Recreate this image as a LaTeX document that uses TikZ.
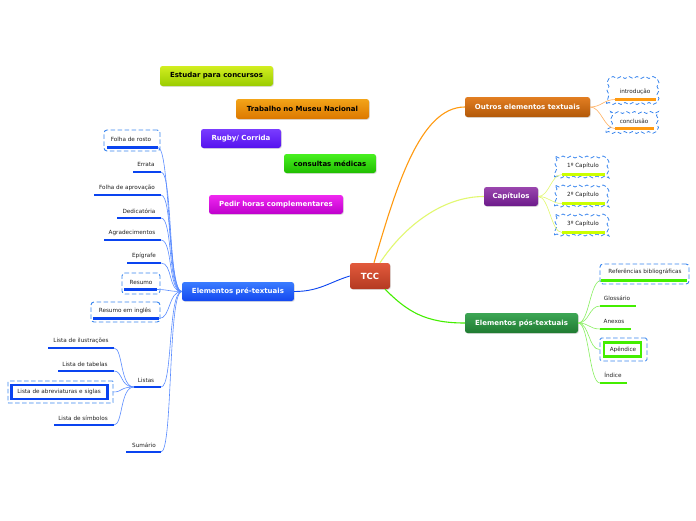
\documentclass[tikz,border=0pt]{standalone}
\usepackage{fontspec}
\setmainfont{DejaVu Sans}
\usetikzlibrary{decorations.pathmorphing,shadows}
\definecolor{tccT}{HTML}{E25A3C}\definecolor{tccB}{HTML}{B43A22}
\definecolor{preT}{HTML}{3A7CFF}\definecolor{preB}{HTML}{1448F0}
\definecolor{outT}{HTML}{E27E22}\definecolor{outB}{HTML}{B25808}
\definecolor{capT}{HTML}{9A46AE}\definecolor{capB}{HTML}{6C1A8A}
\definecolor{posT}{HTML}{3DA655}\definecolor{posB}{HTML}{1F7B31}
\definecolor{estT}{HTML}{D2EE20}\definecolor{estB}{HTML}{9ACC00}
\definecolor{traT}{HTML}{F3A418}\definecolor{traB}{HTML}{DC7800}
\definecolor{rugT}{HTML}{7A3CFF}\definecolor{rugB}{HTML}{5512EE}
\definecolor{conT}{HTML}{48F020}\definecolor{conB}{HTML}{20BE00}
\definecolor{pedT}{HTML}{F028F0}\definecolor{pedB}{HTML}{BE00CC}
\definecolor{ulblue}{HTML}{0A44F0}
\definecolor{lnblue}{HTML}{5A8CFF}
\definecolor{ulor}{HTML}{FF9A10}
\definecolor{lnor}{HTML}{FFB060}
\definecolor{ullime}{HTML}{CCFF00}
\definecolor{lnlime}{HTML}{E2F870}
\definecolor{ulgreen}{HTML}{44EE00}
\definecolor{lngreen}{HTML}{88F060}
\definecolor{dashc}{HTML}{3A86EE}
\definecolor{txt}{HTML}{222222}
\tikzset{
  mainbox/.style={rounded corners=2.5pt, inner sep=0pt, text=white,
    font=\bfseries\fontsize{7}{8}\selectfont,
    drop shadow={opacity=0.25, shadow xshift=0.8pt, shadow yshift=-0.8pt}},
  subt/.style={font=\fontsize{5.7}{6.5}\selectfont, text=txt, inner sep=0pt},
  ul/.style={line width=2.4pt},
  lc/.style={line width=0.6pt},
  dbox/.style={draw=dashc, dash pattern=on 4.5pt off 2.5pt, line width=0.9pt, rounded corners=3pt, inner sep=0pt},
  wbox/.style={draw=dashc, dash pattern=on 4pt off 2.5pt, line width=0.8pt, inner sep=0pt,
    decorate, decoration={snake, amplitude=1pt, segment length=8pt}},
}
\begin{document}
\begin{tikzpicture}[x=1pt,y=-1pt]
\useasboundingbox[fill=white] (0,0) rectangle (696,520);

% ---- floating topics
\node[mainbox, top color=estT, bottom color=estB, text=black, minimum width=113pt, minimum height=20pt] (est) at (216.5,76) {Estudar para concursos};
\node[mainbox, top color=traT, bottom color=traB, text=black, minimum width=133pt, minimum height=20pt] (tra) at (302.5,109) {Trabalho no Museu Nacional};
\node[mainbox, top color=rugT, bottom color=rugB, minimum width=80pt, minimum height=19pt] (rug) at (241,138.5) {Rugby/ Corrida};
\node[mainbox, top color=conT, bottom color=conB, text=black, minimum width=92pt, minimum height=19pt] (con) at (330,163.5) {consultas médicas};
\node[mainbox, top color=pedT, bottom color=pedB, minimum width=134pt, minimum height=19pt] (ped) at (276,204.5) {Pedir horas complementares};

% ---- main topics
\node[mainbox, top color=tccT, bottom color=tccB, minimum width=40pt, minimum height=26pt, font=\bfseries\fontsize{8.5}{9}\selectfont] (tcc) at (370,276) {TCC};
\node[mainbox, top color=preT, bottom color=preB, minimum width=112pt, minimum height=19pt] (pre) at (238,291.5) {Elementos pré-textuais};
\node[mainbox, top color=outT, bottom color=outB, minimum width=125pt, minimum height=20pt] (out) at (527.5,107) {Outros elementos textuais};
\node[mainbox, top color=capT, bottom color=capB, minimum width=54pt, minimum height=19pt] (cap) at (511,196.5) {Capítulos};
\node[mainbox, top color=posT, bottom color=posB, minimum width=113pt, minimum height=20pt] (pos) at (521.5,323) {Elementos pós-textuais};

% ---- main connectors
\draw[lc, draw=ulblue, line width=0.9pt] (tcc.west) .. controls +(-20,6) and +(25,0) .. (pre.east);
\draw[lc, draw=ulor, line width=1.1pt] ([xshift=4pt]tcc.north) .. controls +(22,-75) and +(-45,0) .. (out.west);
\draw[lc, draw=lnlime, line width=1.1pt] ([xshift=10pt]tcc.north) .. controls +(25,-38) and +(-40,0) .. (cap.west);
\draw[lc, draw=ulgreen, line width=1.1pt] ([xshift=15pt]tcc.south) .. controls +(22,22) and +(-40,0) .. (pos.west);

% ---- pre-textuais children
\node[dbox, minimum width=56pt, minimum height=21pt] (rostoB) at (132,140.5) {};
\node[subt] (rosto) at (131,139) {Folha de rosto};
\coordinate (rostoL) at (107,147.5); \coordinate (rostoR) at (158,147.5);
\node[subt] (errata) at (146,164) {Errata};
\coordinate (errataL) at (133,172); \coordinate (errataR) at (161,172);
\node[subt] (aprov) at (127,188) {Folha de aprovação};
\coordinate (aprovL) at (94,195); \coordinate (aprovR) at (161,195);
\node[subt] (dedic) at (139,211) {Dedicatória};
\coordinate (dedicL) at (117,218); \coordinate (dedicR) at (161,218);
\node[subt] (agrad) at (132,233) {Agradecimentos};
\coordinate (agradL) at (104,240); \coordinate (agradR) at (161,240);
\node[subt] (epig) at (144,256) {Epígrafe};
\coordinate (epigL) at (127,263); \coordinate (epigR) at (161,263);
\node[dbox, minimum width=38pt, minimum height=21pt] (resB) at (141,283.5) {};
\node[subt] (res) at (141,282) {Resumo};
\coordinate (resL) at (124,289.5); \coordinate (resR) at (157,289.5);
\node[dbox, minimum width=69pt, minimum height=20pt] (resiB) at (125.5,312) {};
\node[subt] (resi) at (125,311) {Resumo em inglês};
\coordinate (resiL) at (93,318.5); \coordinate (resiR) at (159,318.5);
\node[subt] (listas) at (146,380) {Listas};
\coordinate (listasL) at (134,387); \coordinate (listasR) at (161,387);
\node[subt] (sum) at (144,445) {Sumário};
\coordinate (sumL) at (126,452); \coordinate (sumR) at (161,452);
\foreach \n in {rosto,errata,aprov,dedic,agrad,epig,res,resi,listas,sum}{
  \draw[ul, draw=ulblue] (\n L) -- (\n R);
  \draw[lc, draw=lnblue] (pre.west) .. controls +(-14,0) and +(12,0) .. (\n R);
}

% ---- listas children
\node[subt] (ilus) at (81,341) {Lista de ilustrações};
\coordinate (ilusL) at (48,348); \coordinate (ilusR) at (114,348);
\node[subt] (tab) at (85,364) {Lista de tabelas};
\coordinate (tabL) at (58,371); \coordinate (tabR) at (114,371);
\node[subt] (simb) at (83,418) {Lista de símbolos};
\coordinate (simbL) at (54,425); \coordinate (simbR) at (114,425);
\foreach \n in {ilus,tab,simb}{
  \draw[ul, draw=ulblue] (\n L) -- (\n R);
  \draw[lc, draw=lnblue] (listasL) .. controls +(-14,0) and +(9,0) .. (\n R);
}
\node[dbox, rounded corners=0.5pt, minimum width=105pt, minimum height=22pt] (abrevB) at (60.5,392) {};
\node[draw=ulblue, line width=2.2pt, minimum width=96pt, minimum height=14pt, inner sep=0pt] (abrevI) at (59.5,392) {};
\node[subt] (abrev) at (59,392) {Lista de abreviaturas e siglas};
\draw[lc, draw=lnblue] (listasL) .. controls +(-14,0) and +(9,0) .. (abrevB.east);

% ---- outros children
\node[wbox, minimum width=50pt, minimum height=21pt] (introB) at (631.5,93) {};
\node[subt] (intro) at (635,92) {introdução};
\coordinate (introL) at (615,99.5); \coordinate (introR) at (656,99.5);
\node[wbox, minimum width=48pt, minimum height=21pt] (concB) at (630,122) {};
\node[subt] (conc) at (634,121) {conclusão};
\coordinate (concL) at (615,128.5); \coordinate (concR) at (654,128.5);
\foreach \n in {intro,conc}{
  \draw[ul, draw=ulor] (\n L) -- (\n R);
  \draw[lc, draw=lnor] (out.east) .. controls +(11,0) and +(-11,0) .. (\n L);
}

% ---- capitulos children
\node[wbox, minimum width=51pt, minimum height=21pt] (c1B) at (580,166.5) {};
\node[subt] (c1) at (583,166) {1º Capítulo};
\coordinate (c1L) at (562,174.5); \coordinate (c1R) at (605,174.5);
\node[wbox, minimum width=51pt, minimum height=21pt] (c2B) at (580,195.5) {};
\node[subt] (c2) at (583,195) {2º Capítulo};
\coordinate (c2L) at (562,203.5); \coordinate (c2R) at (605,203.5);
\node[wbox, minimum width=51pt, minimum height=21pt] (c3B) at (580,224.5) {};
\node[subt] (c3) at (583,224) {3º Capítulo};
\coordinate (c3L) at (562,232.5); \coordinate (c3R) at (605,232.5);
\foreach \n in {c1,c2,c3}{
  \draw[ul, draw=ullime] (\n L) -- (\n R);
  \draw[lc, draw=lnlime] (cap.east) .. controls +(11,0) and +(-11,0) .. (\n L);
}

% ---- pos-textuais children
\node[dbox, minimum width=89pt, minimum height=20pt] (refB) at (644.5,274) {};
\node[subt] (ref) at (645,272) {Referências bibliográficas};
\coordinate (refL) at (601,280.5); \coordinate (refR) at (687,280.5);
\node[subt] (glos) at (617,298) {Glossário};
\coordinate (glosL) at (600,306); \coordinate (glosR) at (636,306);
\node[subt] (anex) at (614,321) {Anexos};
\coordinate (anexL) at (600,329); \coordinate (anexR) at (631,329);
\node[subt] (ind) at (613,375) {Índice};
\coordinate (indL) at (600,383); \coordinate (indR) at (627,383);
\foreach \n in {ref,glos,anex,ind}{
  \draw[ul, draw=ulgreen] (\n L) -- (\n R);
  \draw[lc, draw=lngreen] (pos.east) .. controls +(11,0) and +(-11,0) .. (\n L);
}
\node[dbox, rounded corners=1.5pt, minimum width=47pt, minimum height=23pt] (apenB) at (623.5,349.5) {};
\node[draw=ulgreen, line width=2.5pt, minimum width=37pt, minimum height=14pt, inner sep=0pt] (apenI) at (622.5,349.5) {};
\node[subt] (apen) at (623,350) {Apêndice};
\draw[lc, draw=lngreen] (pos.east) .. controls +(11,0) and +(-11,0) .. (apenB.west);
\end{tikzpicture}
\end{document}
